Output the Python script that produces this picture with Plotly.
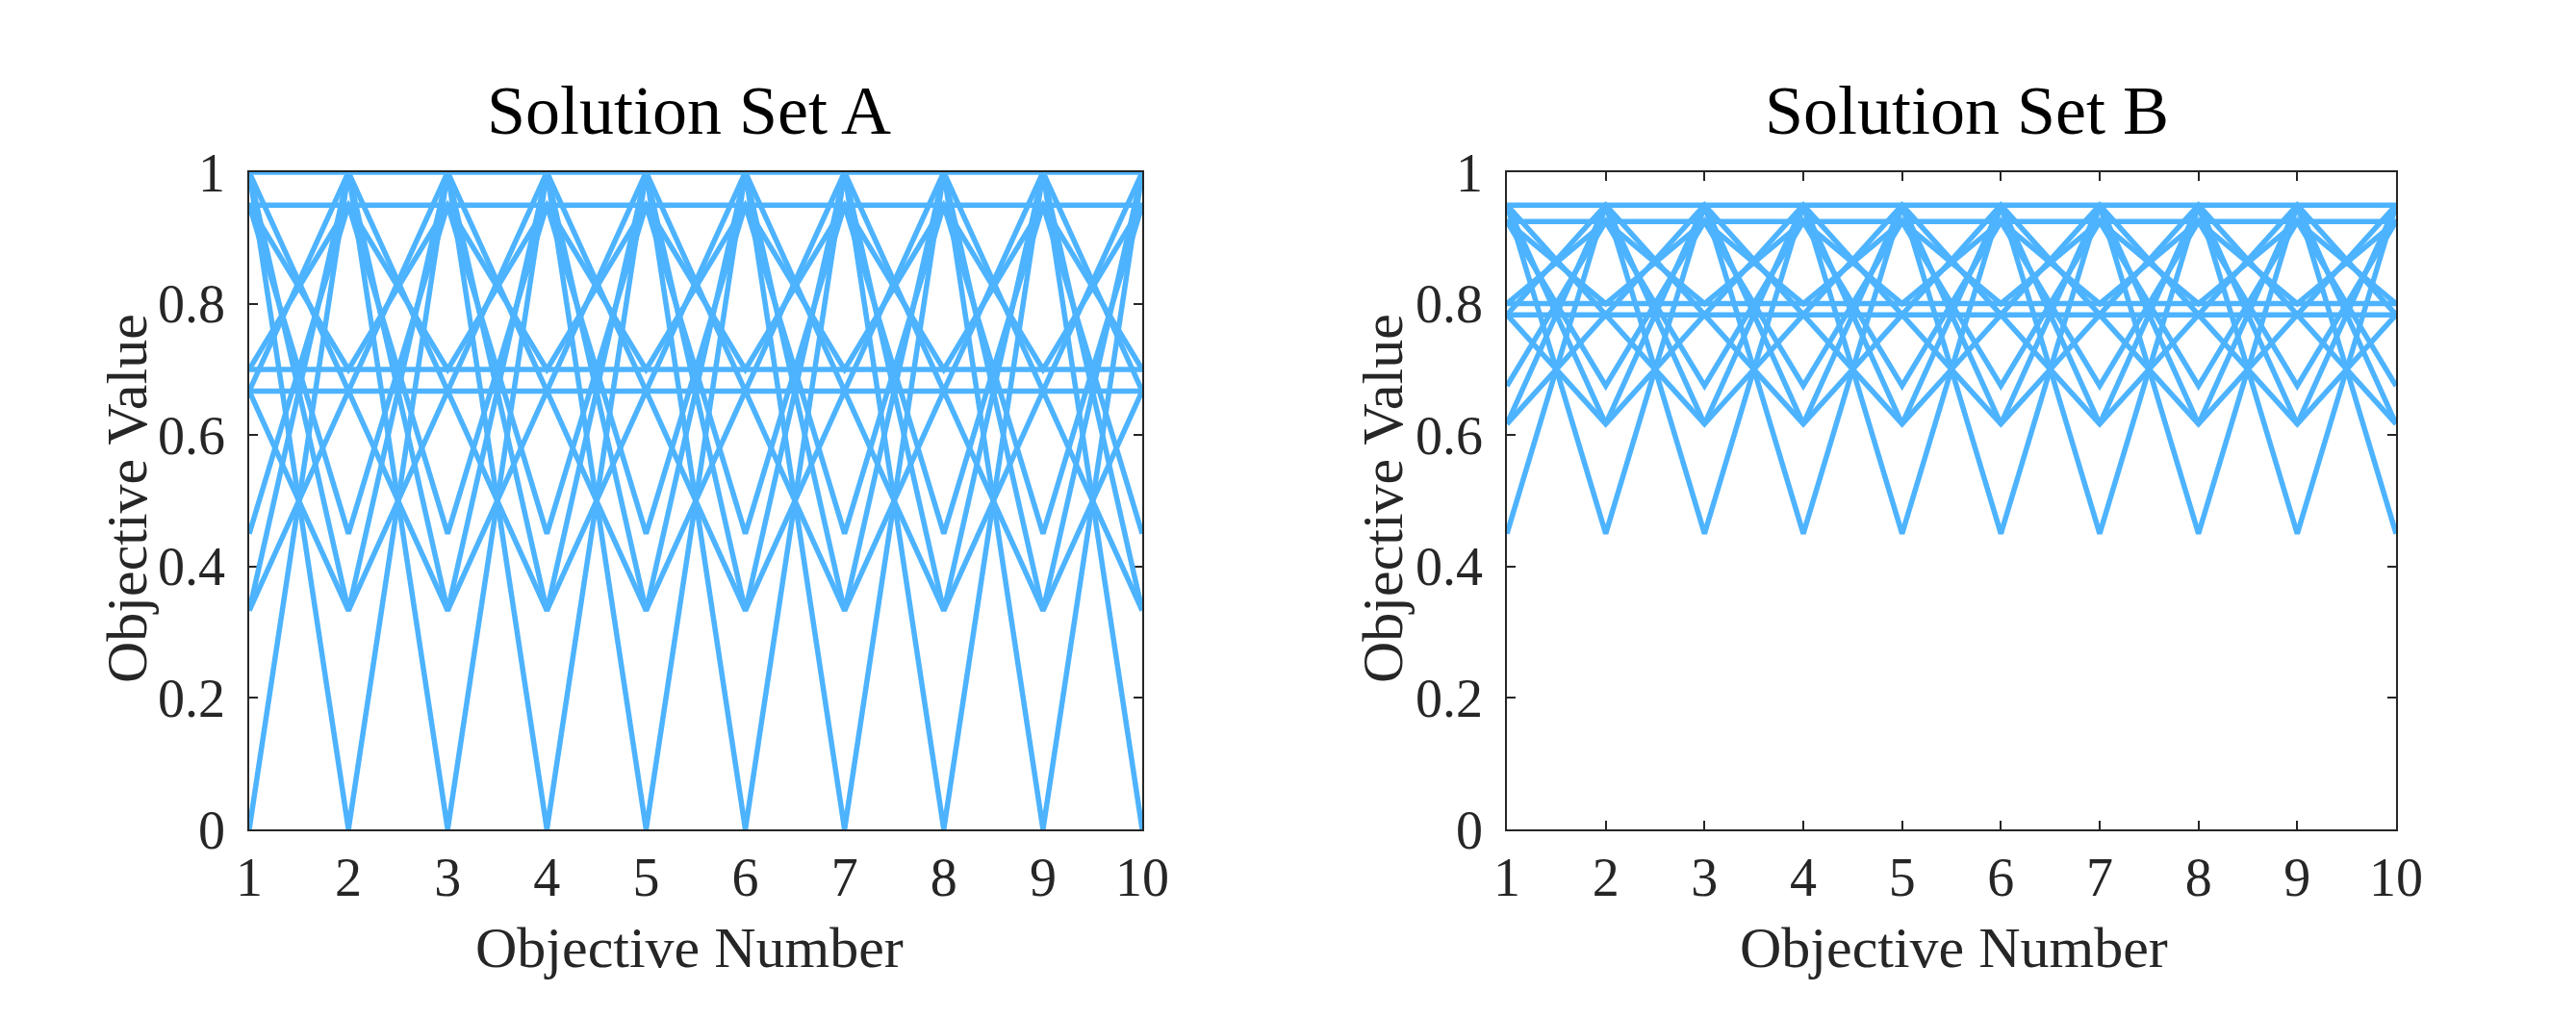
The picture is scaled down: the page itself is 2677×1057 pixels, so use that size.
import plotly.graph_objects as go

# ---------- datos ----------
objectives = [1, 2, 3, 4, 5, 6, 7, 8, 9, 10]

# cada solución alterna: valor en objetivos impares / valor en objetivos pares
set_a_odd = [1.0, 1.0, 0.667, 1.0, 0.333, 1.0, 0.0, 0.667, 0.667, 0.333,
             0.95, 0.95, 0.70, 0.95, 0.45, 0.70]
set_a_even = [1.0, 0.667, 1.0, 0.333, 1.0, 0.0, 1.0, 0.667, 0.333, 0.667,
              0.95, 0.70, 0.95, 0.45, 0.95, 0.70]

set_b_odd = [0.95, 0.95, 0.783, 0.95, 0.617, 0.95, 0.45, 0.783, 0.783, 0.617,
             0.925, 0.925, 0.80, 0.925, 0.675, 0.80]
set_b_even = [0.95, 0.783, 0.95, 0.617, 0.95, 0.45, 0.95, 0.783, 0.617, 0.783,
              0.925, 0.80, 0.925, 0.675, 0.925, 0.80]

y_ticks = [0, 0.2, 0.4, 0.6, 0.8, 1]
y_ticktext = ["0", "0.2", "0.4", "0.6", "0.8", "1"]

# ---------- estilo ----------
W, H = 2677, 1057
OFF = 8  # margen por defecto del <body> en la página
LINE_COLOR = "rgb(77,179,255)"
AXIS_COLOR = "#262626"
FONT = "Liberation Serif, Times New Roman, serif"


def px_x(p):
    return (p - OFF) / W


def px_y(p):
    return 1 - (p - OFF) / H


fig = go.Figure()

for odd, even, xa, ya in [(set_a_odd, set_a_even, "x", "y"),
                          (set_b_odd, set_b_even, "x2", "y2")]:
    for a, b in zip(odd, even):
        fig.add_trace(go.Scatter(
            x=objectives, y=[a, b] * 5, mode="lines",
            line=dict(color=LINE_COLOR, width=5.5),
            xaxis=xa, yaxis=ya, showlegend=False, hoverinfo="skip",
        ))

ax_common = dict(
    showgrid=False, zeroline=False, showline=True, mirror="ticks",
    linecolor=AXIS_COLOR, linewidth=1.5, ticks="inside", ticklen=9,
    tickwidth=1.5, tickcolor=AXIS_COLOR, layer="below traces",
    automargin=False,
    tickfont=dict(family=FONT, size=56, color=AXIS_COLOR),
)

y_dom = [px_y(862), px_y(179)]
fig.update_layout(
    width=W, height=H,
    margin=dict(l=0, r=0, t=0, b=0, pad=0),
    paper_bgcolor="white", plot_bgcolor="white",
    font=dict(family=FONT, color=AXIS_COLOR),
    xaxis=dict(domain=[px_x(259), px_x(1187)], range=[1, 10],
               tickvals=objectives, anchor="y", ticklabelstandoff=0, **ax_common),
    yaxis=dict(domain=y_dom, range=[0, 1], tickvals=y_ticks,
               ticktext=y_ticktext, anchor="x", ticklabelstandoff=12, **ax_common),
    xaxis2=dict(domain=[px_x(1566), px_x(2490)], range=[1, 10],
                tickvals=objectives, anchor="y2", ticklabelstandoff=0, **ax_common),
    yaxis2=dict(domain=y_dom, range=[0, 1], tickvals=y_ticks,
                ticktext=y_ticktext, anchor="x2", ticklabelstandoff=12, **ax_common),
)

# títulos y etiquetas de ejes
for cx, tx, ylab_x, name in [(716, 716, 132, "Solution Set A"),
                             (2030, 2044, 1437, "Solution Set B")]:
    fig.add_annotation(x=px_x(tx), y=px_y(115), xref="paper", yref="paper",
                       text=name, showarrow=False, xanchor="center", yanchor="middle",
                       font=dict(family=FONT, size=72, color="black"))
    fig.add_annotation(x=px_x(cx), y=px_y(985), xref="paper", yref="paper",
                       text="Objective Number", showarrow=False,
                       xanchor="center", yanchor="middle",
                       font=dict(family=FONT, size=60, color=AXIS_COLOR))
    fig.add_annotation(x=px_x(ylab_x), y=px_y(518), xref="paper", yref="paper",
                       text="Objective Value", showarrow=False, textangle=-90,
                       xanchor="center", yanchor="middle",
                       font=dict(family=FONT, size=60, color=AXIS_COLOR))

fig.write_html("out.html")
